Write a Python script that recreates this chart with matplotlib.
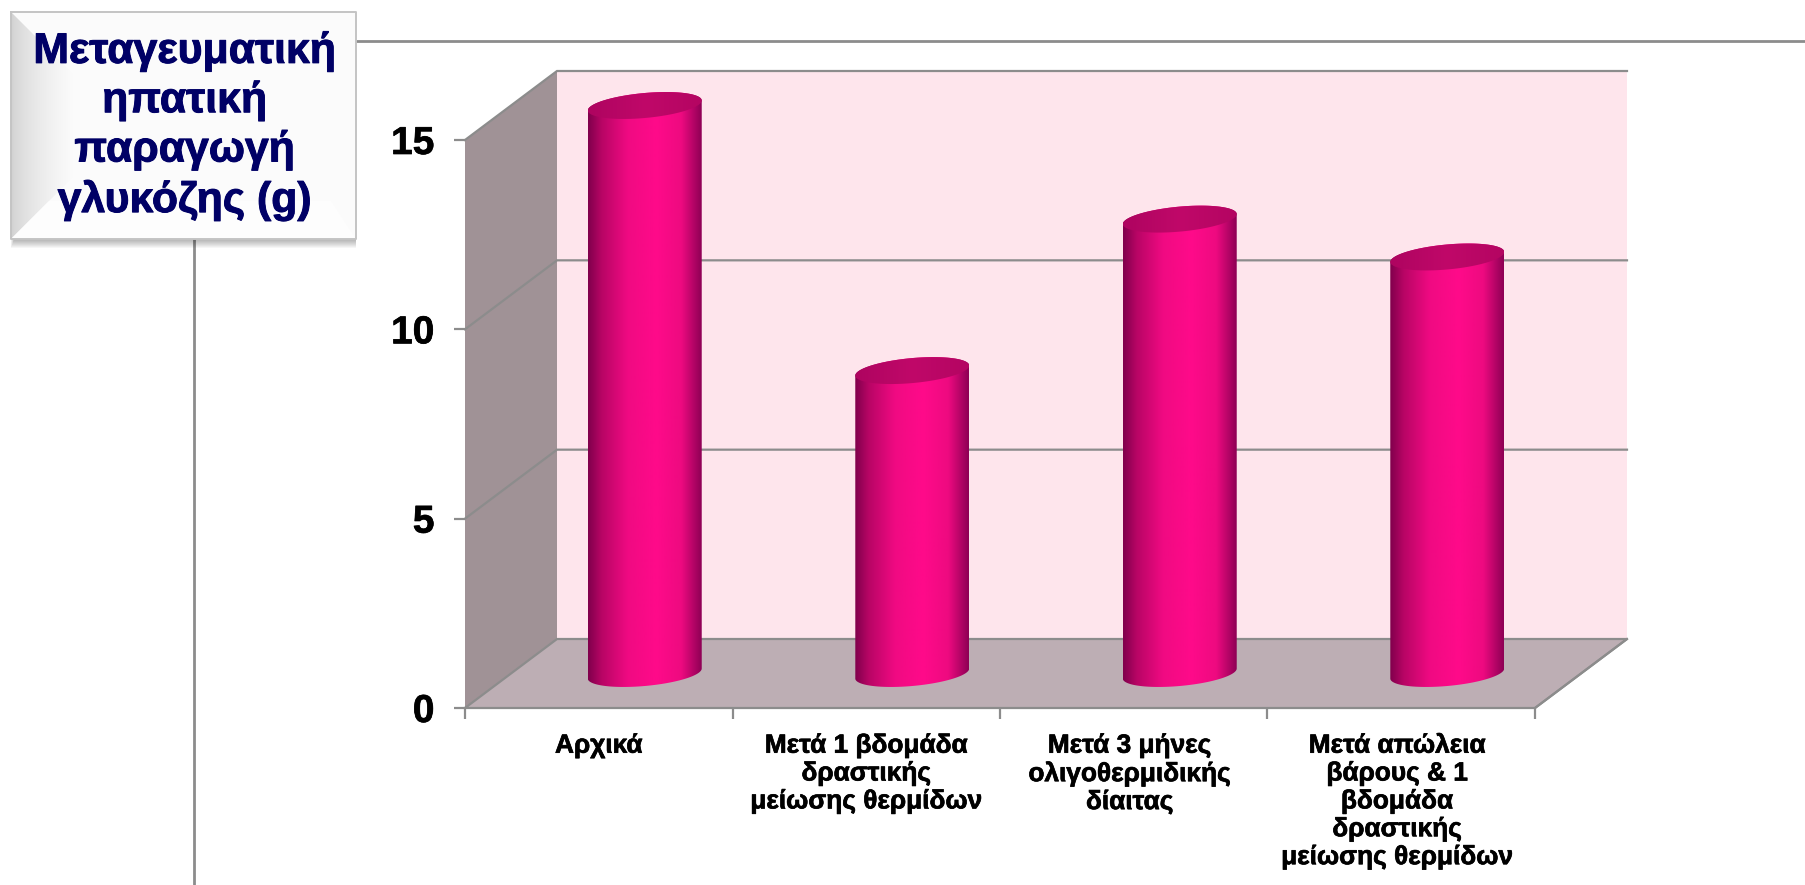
import numpy as np
import matplotlib
matplotlib.use("Agg")
import matplotlib.pyplot as plt
import matplotlib.patheffects as pe
from matplotlib.colors import LinearSegmentedColormap
from matplotlib.patches import Polygon, Rectangle

plt.rcParams["font.family"] = ["Liberation Sans", "DejaVu Sans"]
plt.rcParams["font.weight"] = "bold"

# chart data
categories = [
    "Αρχικά",
    "Μετά 1 βδομάδα\nδραστικής\nμείωσης θερμίδων",
    "Μετά 3 μήνες\nολιγοθερμιδικής\nδίαιτας",
    "Μετά απώλεια\nβάρους & 1\nβδομάδα\nδραστικής\nμείωσης θερμίδων",
]
values = [15, 8, 12, 11]
y_ticks = [0, 5, 10, 15]
header_lines = "Μεταγευματική\nηπατική\nπαραγωγή\nγλυκόζης (g)"

W, H = 1806, 885
fig = plt.figure(figsize=(W / 100, H / 100), dpi=100, facecolor="white")

# page layer in pixels, y pointing down
page = fig.add_axes([0, 0, 1, 1], zorder=0)
page.set_xlim(0, W)
page.set_ylim(H, 0)
page.axis("off")

line_col = "#8c8c8c"
page.plot([355, W], [41, 41], color=line_col, lw=2)
page.plot([194, 194], [238, H], color=line_col, lw=2)

# plot axes: the front plane of the oblique 3D box
x0, x1 = 465, 1535
y_bot, y_top = 708, 140
ax = fig.add_axes([x0 / W, 1 - y_bot / H, (x1 - x0) / W, (y_bot - y_top) / H], zorder=1)
ax.set_xlim(0, len(values))
ax.set_ylim(0, 15)
ax.patch.set_visible(False)
for s in ax.spines.values():
    s.set_visible(False)

# depth of the box in data units
depth_x = 92 / ((x1 - x0) / len(values))
depth_y = 69 / ((y_bot - y_top) / 15)
top_v = 15


def proj(x, v, d=0.0):
    return x + d * depth_x, v + d * depth_y


n = len(values)
back_wall = Rectangle(proj(0, 0, 1), n, top_v, fc="#fee5ec", ec="none", clip_on=False, zorder=1)
ax.add_patch(back_wall)
side_wall = Polygon([proj(0, 0), proj(0, 0, 1), proj(0, top_v, 1), proj(0, top_v)],
                    fc="#a09296", ec="none", clip_on=False, zorder=1)
ax.add_patch(side_wall)
floor = Polygon([proj(0, 0), proj(n, 0), proj(n, 0, 1), proj(0, 0, 1)],
                fc="#bdaeb4", ec="none", clip_on=False, zorder=2)
ax.add_patch(floor)

# gridlines run across the back wall and down the side wall
for v in y_ticks[1:]:
    xs, ys = zip(proj(0, v), proj(0, v, 1), proj(n, v, 1))
    ax.plot(xs, ys, color=line_col, lw=1.6, clip_on=False, zorder=2,
            solid_joinstyle="miter")
xs, ys = zip(proj(0, 0), proj(0, 0, 1), proj(n, 0, 1), proj(n, 0), proj(0, 0))
ax.plot(xs, ys, color=line_col, lw=1.6, clip_on=False, zorder=2.5)
xs, ys = zip(proj(n, 0), proj(n, 0, 1))
ax.plot(xs, ys, color=line_col, lw=1.6, clip_on=False, zorder=2.5)

# cylinders
body_cmap = LinearSegmentedColormap.from_list(
    "body", [(0, "#80004c"), (0.12, "#b80565"), (0.35, "#f00a82"), (0.6, "#ff0a8a"),
             (0.82, "#ee0a80"), (1, "#8e0055")])
cap_cmap = LinearSegmentedColormap.from_list("cap", ["#ae0460", "#c00869", "#b40562"])
grad = np.linspace(0, 1, 256).reshape(1, -1)

bar_w = 0.426
half_h = 12.5 / ((y_bot - y_top) / 15)
tilt = 5.0 / ((y_bot - y_top) / 15)
t = np.linspace(0, 2 * np.pi, 181)


def ellipse(cx, cy):
    return (cx + bar_w / 2 * np.cos(t),
            cy + half_h * np.sin(t) + tilt * np.cos(t))


for i, v in enumerate(values):
    cx, base = proj(i + 0.5, 0, 0.5)
    _, top = proj(i + 0.5, v, 0.5)
    ex, ey = ellipse(cx, base)
    lower = t > np.pi
    tx, ty = ellipse(cx, top)
    # body outline: lower half of the base ellipse, then back over the top ellipse
    order = np.argsort(ex[lower])
    body_pts = np.column_stack([
        np.r_[ex[lower][order], tx[t <= np.pi]],
        np.r_[ey[lower][order], ty[t <= np.pi]],
    ])
    clip = Polygon(body_pts, fc="none", ec="none", clip_on=False)
    ax.add_patch(clip)
    im = ax.imshow(grad, cmap=body_cmap, aspect="auto", zorder=3, interpolation="bilinear",
                   extent=[cx - bar_w / 2, cx + bar_w / 2, base - 2, top + 2])
    im.set_clip_path(clip)
    im.set_clip_box(fig.bbox)
    cap = Polygon(np.column_stack([tx, ty]), fc="none", ec="none", clip_on=False)
    ax.add_patch(cap)
    im2 = ax.imshow(grad, cmap=cap_cmap, aspect="auto", zorder=4, interpolation="bilinear",
                    extent=[cx - bar_w / 2, cx + bar_w / 2, top - 2, top + 2])
    im2.set_clip_path(cap)
    im2.set_clip_box(fig.bbox)

ax.set_xlim(0, n)
ax.set_ylim(0, 15)

# a thin stroke thickens the bold face a little
heavy = [pe.withStroke(linewidth=0.5, foreground="black")]

ax.set_yticks(y_ticks)
ax.set_yticklabels([str(v) for v in y_ticks], fontsize=28, fontweight="bold", color="black",
                   path_effects=heavy)
ax.set_xticks(range(n + 1))
ax.set_xticklabels([""] * (n + 1))
ax.tick_params(axis="both", color=line_col, width=1.6, length=8)
ax.tick_params(axis="y", pad=14)

label_shift = [0, 0, -3, -3]
for i, label in enumerate(categories):
    ax.annotate(label, (i + 0.5, 0), xytext=(label_shift[i], -18.5), textcoords="offset points",
                ha="center", va="top", fontsize=18.9, fontweight="bold",
                linespacing=1.2, annotation_clip=False, path_effects=heavy)

# header box with bevelled edges and a soft shadow
bx0, bx1, by0, by1 = 11, 356, 12, 239
for k in range(10):
    page.add_patch(Rectangle((bx0 + k * 0.4, by1 - 5), bx1 - bx0 - k * 0.4, 14 - k,
                             fc="black", alpha=0.035, ec="none", zorder=3))
page.add_patch(Rectangle((bx0, by0), bx1 - bx0, by1 - by0, fc="#fbfbfb", ec="none", zorder=4))

# left bevel fades into the face, mitred at the two corners
bevel = Polygon([(bx0, by0), (bx0 + 62, by0 + 62), (bx0 + 62, by1 - 62), (bx0, by1)],
                fc="none", ec="none")
page.add_patch(bevel)
bev_im = page.imshow(np.linspace(0, 1, 64).reshape(1, -1) ** 0.6,
                     cmap=LinearSegmentedColormap.from_list("bev", ["#cfcfcf", "#fbfbfb"]),
                     extent=[bx0, bx0 + 62, by1, by0], aspect="auto", zorder=4.2)
bev_im.set_clip_path(bevel)
page.add_patch(Polygon([(bx0, by1), (bx0 + 38, by1 - 38), (bx1 - 25, by1 - 38), (bx1, by1)],
                       fc="#fdfdfd", ec="none", zorder=4.5))
page.plot([bx0, bx0, bx1, bx1, bx0], [by0, by1, by1, by0, by0], color="#c4c4c4", lw=1.4, zorder=5)
page.text((bx0 + bx1) / 2 + 1, (by0 + by1) / 2 + 1, header_lines, ha="center", va="center",
          fontsize=30.8, fontweight="bold", color="#000066", linespacing=1.3, zorder=6,
          path_effects=[pe.withStroke(linewidth=0.7, foreground="#000066")])
page.set_xlim(0, W)
page.set_ylim(H, 0)

fig.savefig("out.png", dpi=100, facecolor="white")
